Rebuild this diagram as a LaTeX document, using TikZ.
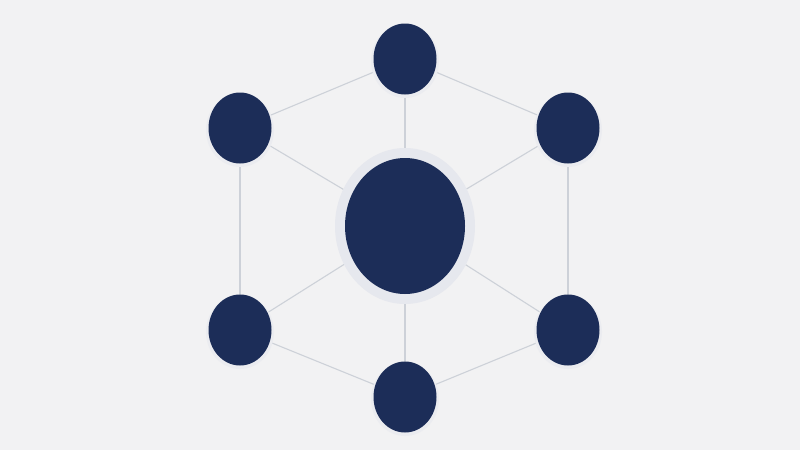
\documentclass[tikz,border=0pt]{standalone}
\usetikzlibrary{shapes.geometric}
\pgfdeclarelayer{bg}
\pgfdeclarelayer{halo}
\pgfsetlayers{bg,halo,main}
\begin{document}
\begin{tikzpicture}[x=1pt,y=-1pt]
\definecolor{bgc}{HTML}{F2F2F3}
\definecolor{nodec}{HTML}{1C2D58}
\definecolor{linec}{HTML}{CDD1D8}
\definecolor{haloc}{HTML}{E6E8EE}
\tikzset{
  edge/.style={draw=linec,line width=1.1pt},
  smallnode/.style={fill=nodec,draw=none,shape=ellipse,minimum width=63pt,minimum height=71pt,inner sep=0pt},
  bignode/.style={fill=nodec,draw=none,shape=ellipse,minimum width=120pt,minimum height=136pt,inner sep=0pt},
}
\begin{pgfonlayer}{bg}
\fill[bgc] (0,0) rectangle (800,450);
\end{pgfonlayer}
\useasboundingbox (0,0) rectangle (800,450);
% halos
\begin{pgfonlayer}{halo}
\fill[haloc] (405,226) ellipse [x radius=70, y radius=78];
\foreach \x/\y in {405/59,240/128,568/128,240/330,568/330,405/397}
  \fill[haloc!60!bgc] (\x,\y+2) ellipse [x radius=34, y radius=37];
\end{pgfonlayer}
% nodes
\node[bignode] (c) at (405,226) {};
\node[smallnode] (t) at (405,59) {};
\node[smallnode] (ul) at (240,128) {};
\node[smallnode] (ur) at (568,128) {};
\node[smallnode] (ll) at (240,330) {};
\node[smallnode] (lr) at (568,330) {};
\node[smallnode] (b) at (405,397) {};
% edges (behind halos)
\begin{pgfonlayer}{bg}
\draw[edge] (t.center) -- (ul.center);
\draw[edge] (ul.center) -- (ll.center);
\draw[edge] (ll.center) -- (b.center);
\draw[edge] (b.center) -- (lr.center);
\draw[edge] (lr.center) -- (ur.center);
\draw[edge] (ur.center) -- (t.center);
\foreach \p in {t,ul,ur,ll,lr,b} \draw[edge] (c.center) -- (\p.center);
\end{pgfonlayer}
\end{tikzpicture}
\end{document}
